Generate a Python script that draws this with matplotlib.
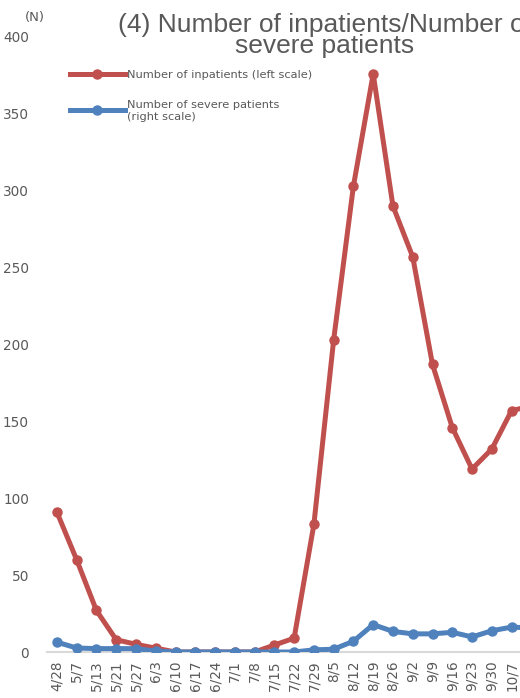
import matplotlib
matplotlib.use("Agg")
import matplotlib.pyplot as plt
from matplotlib.lines import Line2D

plt.rcParams['font.family'] = ['DejaVu Sans']

dates = ["4/28", "5/7", "5/13", "5/21", "5/27", "6/3", "6/10", "6/17", "6/24",
         "7/1", "7/8", "7/15", "7/22", "7/29", "8/5", "8/12", "8/19", "8/26",
         "9/2", "9/9", "9/16", "9/23", "9/30", "10/7", "10/14"]
inpatients = [91, 60, 27, 8, 5, 2.5, 0, 0, 0, 0, 0, 4.5, 9, 83, 203, 303, 376,
              290, 257, 187, 146, 119, 132, 157, 160]
severe = [3.2, 1.3, 1.1, 1.1, 1.1, 0.3, 0, 0, 0, 0, 0, 0, 0, 0.7, 0.9, 3.5, 8.9,
          6.7, 5.9, 5.9, 6.4, 4.9, 6.9, 8.1, 7.8]
left_ticks = [0, 50, 100, 150, 200, 250, 300, 350, 400]

RED = "#C0504D"
BLUE = "#4F81BD"
GRAY = "#595959"
LW = 3.6
MS = 6.5

W, H = 520, 698
fig = plt.figure(figsize=(W / 100, H / 100), dpi=100)
# axes extends past the right edge (reference is cropped)
ax = fig.add_axes([47 / W, 46 / H, 514 / W, 615 / H])
x = list(range(len(dates)))

ax.plot(x, inpatients, color=RED, lw=LW, marker='o', ms=MS, zorder=3,
        solid_joinstyle='round')
ax.set_xlim(-0.5, 25.5)
ax.set_ylim(0, 400)
ax.set_yticks(left_ticks)
ax.set_xticks(x)
ax.set_xticklabels(dates, rotation=90, fontsize=9.8, color=GRAY)
ax.tick_params(axis='y', labelsize=9.8, labelcolor=GRAY, length=0, pad=13)
ax.tick_params(axis='x', length=0, pad=6)
for s in ['top', 'right', 'left']:
    ax.spines[s].set_visible(False)
ax.spines['bottom'].set_color('#D9D9D9')
ax.spines['bottom'].set_linewidth(1.5)

ax2 = ax.twinx()
ax2.plot(x, severe, color=BLUE, lw=LW, marker='o', ms=MS, zorder=3,
         solid_joinstyle='round')
ax2.set_ylim(0, 200)
ax2.set_yticks([])
for s in ['top', 'right', 'left', 'bottom']:
    ax2.spines[s].set_visible(False)

def fy(py):
    return 1 - py / H

fig.text(35 / W, fy(17), "(N)", fontsize=9.5, color=GRAY, ha='center', va='center')
fig.text(325 / W, fy(32), "(4) Number of inpatients/Number of",
         fontsize=19, color=GRAY, ha='center', va='baseline',
         family=['Liberation Sans', 'DejaVu Sans'])
fig.text(325 / W, fy(53), "severe patients",
         fontsize=19, color=GRAY, ha='center', va='baseline',
         family=['Liberation Sans', 'DejaVu Sans'])

# legend (drawn manually to match placement)
for col, py in [(RED, 74), (BLUE, 110)]:
    fig.add_artist(Line2D([70 / W, 125 / W], [fy(py), fy(py)], color=col, lw=LW,
                          transform=fig.transFigure))
    fig.add_artist(Line2D([97 / W], [fy(py)], color=col, marker='o', ms=MS,
                          transform=fig.transFigure))
fig.text(127 / W, fy(75), "Number of inpatients (left scale)", fontsize=8.2,
         color=GRAY, ha='left', va='center')
fig.text(127 / W, fy(111), "Number of severe patients\n(right scale)", fontsize=8.2,
         color=GRAY, ha='left', va='center', linespacing=1.2)

fig.savefig("out.png", dpi=100)
